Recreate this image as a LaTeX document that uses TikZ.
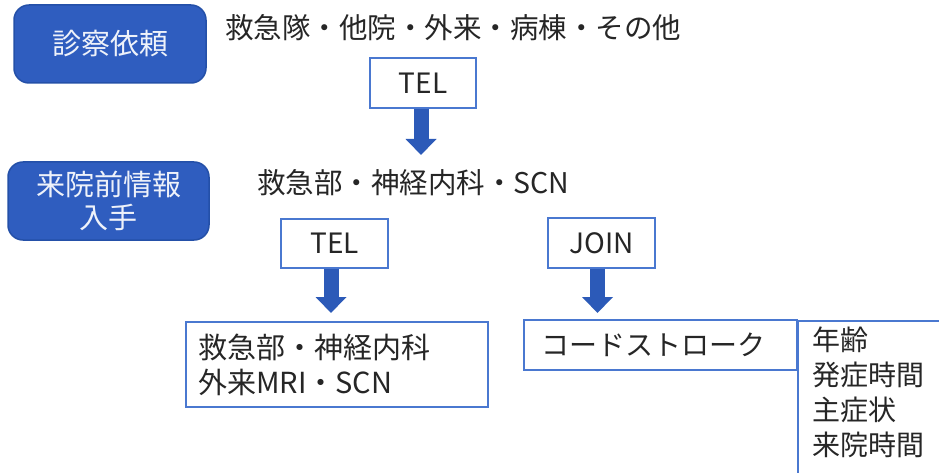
\documentclass[tikz,border=0pt]{standalone}
\usepackage{fontspec}
\setmainfont{Noto Sans CJK JP}
\usetikzlibrary{arrows.meta}
\definecolor{boxblue}{HTML}{2F5DBF}
\definecolor{boxedge}{HTML}{2450A8}
\definecolor{lineblue}{HTML}{4A78D0}
\definecolor{arrowblue}{HTML}{2C5AB8}
\definecolor{txt}{HTML}{262626}
\definecolor{wtxt}{HTML}{EEF2FA}
\tikzset{
  stagebox/.style={draw=boxedge, line width=1.5pt, fill=boxblue, rounded corners=15pt,
    text=wtxt, font=\fontsize{29}{33}\selectfont, align=center, inner sep=0pt},
  plainbox/.style={draw=lineblue, line width=1.6pt, fill=white, inner sep=0pt,
    text=txt, font=\fontsize{28}{32}\selectfont},
  lbl/.style={text=txt, font=\fontsize{28.5}{34}\selectfont, inner sep=0pt, anchor=west},
  bigarrow/.style={draw=arrowblue, line width=15pt,
    -{Triangle[width=30pt,length=16pt]}, arrowblue},
}
\begin{document}
\begin{tikzpicture}[x=1pt,y=-1pt]
\useasboundingbox (0,0) rectangle (939,473);
\clip (0,0) rectangle (939,473);
\fill[white] (0,0) rectangle (939,473);

% left stage boxes
\node[stagebox, minimum width=192pt, minimum height=78pt] (b1) at (110,44) {診察依頼};
\node[stagebox, minimum width=201pt, minimum height=78pt] (b2) at (108.5,201) {来院前情報\\入手};

% text rows
\node[lbl] (t1) at (225,28) {救急隊・他院・外来・病棟・その他};
\node[lbl] (t2) at (257,183) {救急部・神経内科・SCN};

% small boxes
\node[plainbox, minimum width=106pt, minimum height=50pt] (tel1) at (423,83) {TEL};
\node[plainbox, minimum width=107pt, minimum height=49pt] (tel2) at (334.5,243.5) {TEL};
\node[plainbox, minimum width=107pt, minimum height=50pt] (join) at (601.5,243) {JOIN};

% bottom boxes
\node[plainbox, minimum width=302pt, minimum height=85pt] (dest) at (337,364.5) {};
\node[lbl, font=\fontsize{29}{35}\selectfont, align=left] (destt) at (198,365) {救急部・神経内科\\外来MRI・SCN};
\node[plainbox, minimum width=273pt, minimum height=50pt] (cs) at (660.5,345) {};
\node[lbl, font=\fontsize{28}{32}\selectfont] (cst) at (541,345) {コードストローク};
\node[plainbox, minimum width=160pt, minimum height=170pt, anchor=north west] (info) at (797,320) {};
\node[lbl, font=\fontsize{28}{35}\selectfont, align=left, anchor=north west] (infot) at (812,327) {年齢\\発症時間\\主症状\\来院時間};

% arrow end points
\coordinate (e1) at (421,155);
\coordinate (e2) at (331,313);
\coordinate (e3) at (597.5,313);

\draw[bigarrow] (tel1.south -| e1) -- (e1);
\draw[bigarrow] (tel2.south -| e2) -- (e2);
\draw[bigarrow] (join.south -| e3) -- (e3);
\end{tikzpicture}
\end{document}
